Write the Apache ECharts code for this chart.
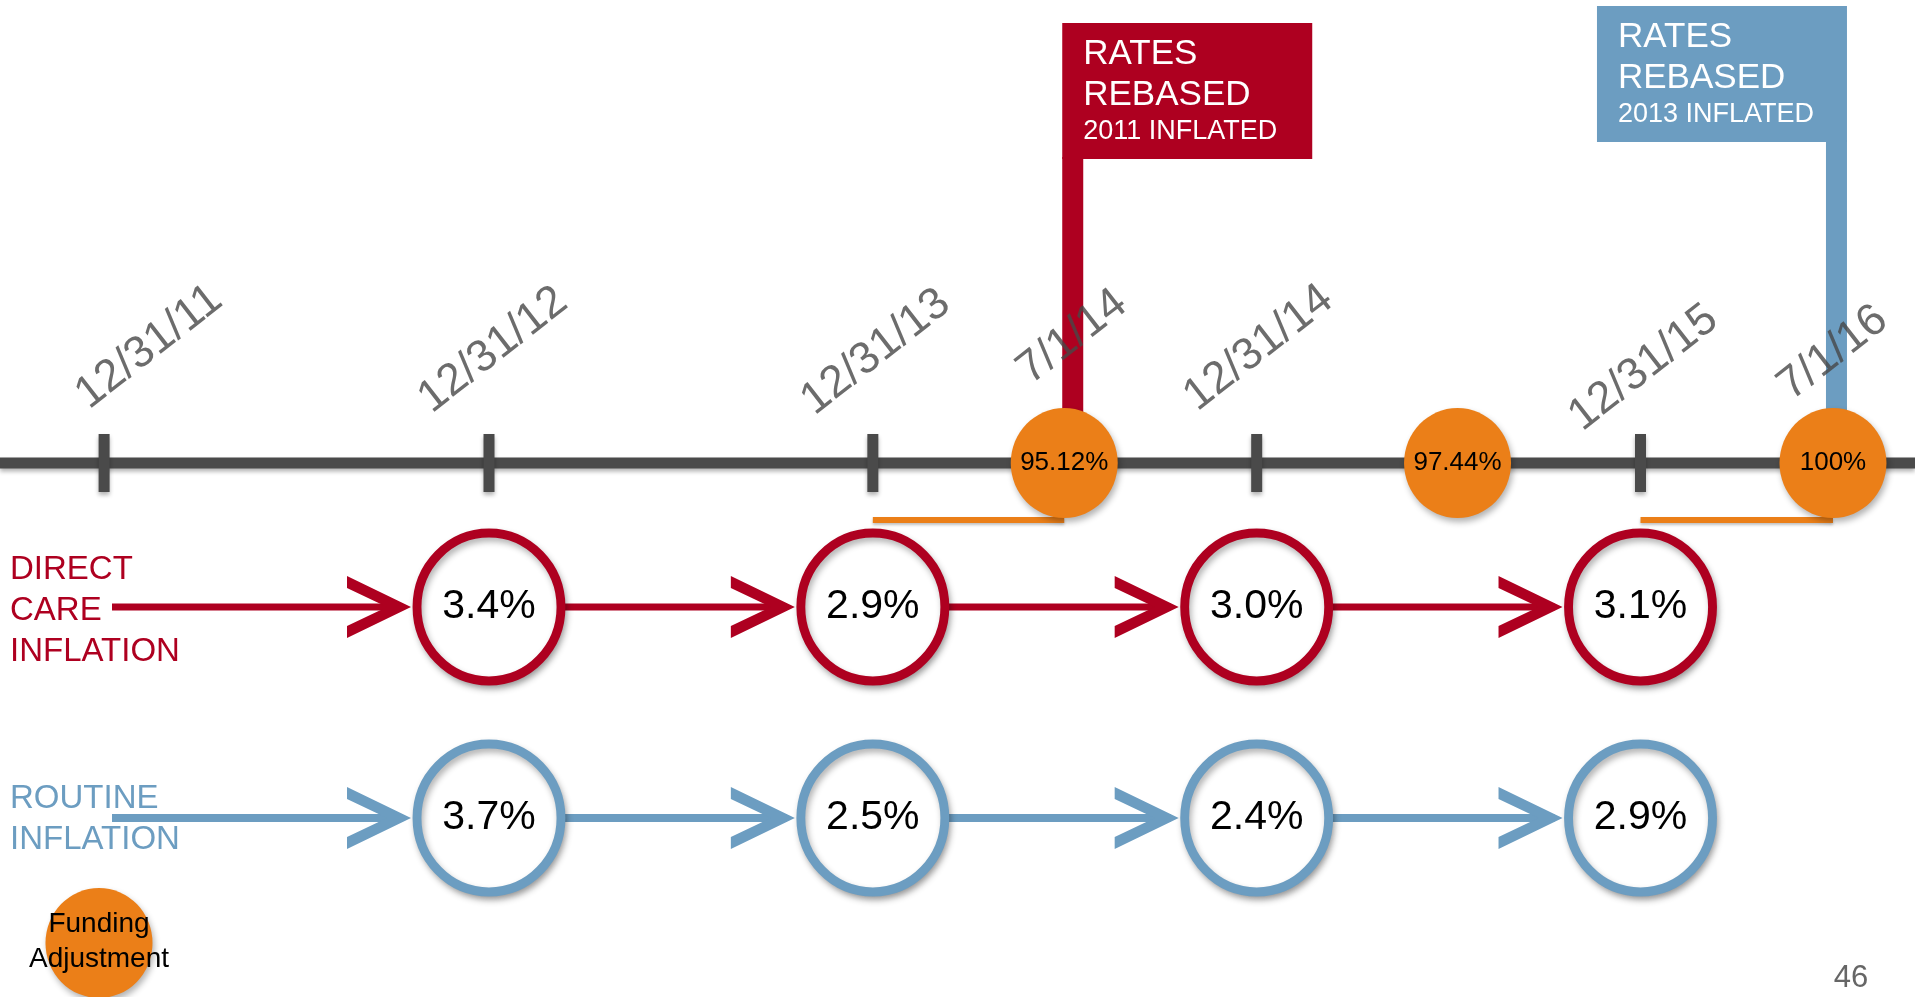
<!DOCTYPE html>
<html>
<head>
<meta charset="utf-8">
<title>Rates rebased timeline</title>
<script src="https://cdn.jsdelivr.net/npm/echarts@6/dist/echarts.min.js"></script>
<style>
    html, body { margin: 0; padding: 0; background: #fff; }
    #main { width: 1915px; height: 997px; }
</style>
</head>
<body>
<div id="main"></div>
<script type="text/javascript">
    // timeline ticks and the dates written above the line
    var tickDates = ['2011-12-31', '2012-12-31', '2013-12-31', '2014-12-31', '2015-12-31'];
    var labelDates = ['2011-12-31', '2012-12-31', '2013-12-31', '2014-07-01', '2014-12-31', '2015-12-31', '2016-07-01'];
    var labelTexts = ['12/31/11', '12/31/12', '12/31/13', '7/1/14', '12/31/14', '12/31/15', '7/1/16'];

    // funding adjustments (orange dots on the line)
    var fundingDates = ['2014-07-01', '2015-07-10', '2016-07-01'];
    var fundingValues = [95.12, 97.44, 100];

    // rebasing flags
    var rebaseDates = ['2014-07-01', '2016-07-01'];
    var rebaseNotes = ['2011 INFLATED', '2013 INFLATED'];

    // orange periods under the line
    var periodStart = ['2013-12-31', '2015-12-31'];
    var periodEnd = ['2014-07-01', '2016-07-01'];

    // inflation per year
    var inflationDates = ['2012-12-31', '2013-12-31', '2014-12-31', '2015-12-31'];
    var directCare = [3.4, 2.9, 3.0, 3.1];
    var routine = [3.7, 2.5, 2.4, 2.9];

    // ---- layout / style ----
    var FONT = '"Liberation Sans", Arial, sans-serif';
    var RED = '#AE0020', BLUE = '#6C9DC1', ORANGE = '#EB7F18', GREY = '#4A4A4A';
    var AXIS_Y = 463, BAR_Y = 520, LABEL_Y = 350, DIRECT_Y = 607, ROUTINE_Y = 818;
    var LABEL_ROT = 38;
    // screen shift of each date label (px)
    var labelShift = [[45, -3], [4, 0], [3, 2], [8, -13], [2, -2], [3, 18], [0, 3]];
    var flagColors = [RED, BLUE];
    var flagTop = [23, 6];
    var flagSide = ['right', 'left'];
    var ELLIPSE = 'path://M50,0 C77.6,0 100,22.4 100,50 C100,77.6 77.6,100 50,100 C22.4,100 0,77.6 0,50 C0,22.4 22.4,0 50,0 Z';
    var SHADOW = {shadowBlur: 6, shadowOffsetX: 2, shadowOffsetY: 4, shadowColor: 'rgba(0,0,0,0.3)'};

    function ts(s) {
        var a = s.split('-');
        return new Date(+a[0], +a[1] - 1, +a[2]).getTime();
    }
    var xMin = ts('2011-09-23'), xMax = ts('2016-09-17');

    function withShadow(o) {
        for (var k in SHADOW) o[k] = SHADOW[k];
        return o;
    }

    // label offset is applied in the rotated text frame, so turn the screen shift into it
    function localOffset(s) {
        var a = LABEL_ROT * Math.PI / 180, c = Math.cos(a), n = Math.sin(a);
        return [s[0] * c - s[1] * n, s[0] * n + s[1] * c];
    }

    function flagRender(params, api) {
        var i = params.dataIndex;
        var p = api.coord([api.value(0), api.value(1)]);
        var top = api.coord([api.value(0), flagTop[i]])[1];
        var w = 250, h = 136, poleW = 21;
        var rectX, poleX;
        if (flagSide[i] === 'right') {
            rectX = p[0] - 2; poleX = p[0] - 2;
        } else {
            rectX = p[0] + 14 - w; poleX = p[0] - 7;
        }
        var tx = rectX + 21;
        var txt = function (s, y, size) {
            return {type: 'text', x: tx, y: top + y, style: {text: s, fill: '#fff', fontSize: size, fontFamily: FONT, align: 'left', verticalAlign: 'middle'}};
        };
        return {
            type: 'group',
            children: [
                {type: 'rect', shape: {x: poleX, y: top + h - 2, width: poleW, height: p[1] - top - h}, style: {fill: flagColors[i]}},
                {type: 'rect', shape: {x: rectX, y: top, width: w, height: h}, style: {fill: flagColors[i]}},
                txt('RATES', 31, 35),
                txt('REBASED', 72, 35),
                txt(rebaseNotes[i], 109, 27)
            ]
        };
    }

    function arrowRender(dates, rowY, color, lw) {
        return function (params, api) {
            var i = params.dataIndex;
            var c = api.coord([api.value(0), api.value(1)]);
            var y = c[1];
            var tip = c[0] - 78;
            var startX = i === 0 ? c[0] - 377 : api.coord([ts(dates[i - 1]), rowY])[0];
            return {
                type: 'group',
                children: [
                    {type: 'line', shape: {x1: startX, y1: y, x2: tip - 8, y2: y}, style: {stroke: color, lineWidth: lw}},
                    {type: 'polygon', shape: {points: [[tip, y], [tip - 64, y - 31], [tip - 64, y - 19], [tip - 24, y], [tip - 64, y + 19], [tip - 64, y + 31]]}, style: {fill: color}}
                ]
            };
        };
    }

    function rateCircles(values, rowY, color) {
        return {
            type: 'scatter',
            z: 4,
            data: inflationDates.map(function (d, i) { return [ts(d), rowY, values[i]]; }),
            encode: {x: 0, y: 1},
            symbol: ELLIPSE,
            symbolSize: [144, 148],
            itemStyle: withShadow({color: '#fff', borderColor: color, borderWidth: 9, opacity: 1}),
            label: {
                show: true, position: 'inside', color: '#000', fontSize: 41, fontFamily: FONT,
                formatter: function (p) { return p.value[2].toFixed(1) + '%'; }
            }
        };
    }

    var myChart = echarts.init(document.getElementById('main'));
    var option = {
        animation: false,
        backgroundColor: '#fff',
        textStyle: {fontFamily: FONT},
        grid: {left: 0, right: 0, top: 0, bottom: 0, containLabel: false},
        xAxis: {type: 'time', min: xMin, max: xMax, show: false},
        yAxis: {type: 'value', min: 0, max: 997, inverse: true, show: false},
        graphic: [
            {type: 'text', x: 10, y: 611, style: {text: 'DIRECT\nCARE\nINFLATION', fill: RED, fontSize: 33, fontFamily: FONT, lineHeight: 41, align: 'left', verticalAlign: 'middle'}},
            {type: 'text', x: 10, y: 819, style: {text: 'ROUTINE\nINFLATION', fill: BLUE, fontSize: 33, fontFamily: FONT, lineHeight: 41, align: 'left', verticalAlign: 'middle'}},
            {type: 'circle', x: 99, y: 943, scaleX: 0.973, shape: {cx: 0, cy: 0, r: 55}, style: withShadow({fill: ORANGE})},
            {type: 'text', x: 99, y: 942, style: {text: 'Funding\nAdjustment', fill: '#000', fontSize: 28, fontFamily: FONT, lineHeight: 35, align: 'center', verticalAlign: 'middle'}},
            {type: 'text', x: 1851, y: 978, style: {text: '46', fill: '#666', fontSize: 31, fontFamily: FONT, align: 'center', verticalAlign: 'middle'}}
        ],
        series: [
            {
                // the timeline itself
                type: 'line', z: 1, silent: true, symbol: 'none',
                data: [[xMin, AXIS_Y], [xMax, AXIS_Y]],
                lineStyle: {color: GREY, width: 11, shadowBlur: 4, shadowOffsetY: 3, shadowColor: 'rgba(0,0,0,0.3)'}
            },
            {
                type: 'scatter', z: 2, silent: true,
                data: tickDates.map(function (d) { return [ts(d), AXIS_Y]; }),
                symbol: 'rect', symbolSize: [11, 58],
                itemStyle: {color: GREY, opacity: 1, shadowBlur: 4, shadowOffsetY: 3, shadowColor: 'rgba(0,0,0,0.3)'}
            },
            {
                type: 'lines', coordinateSystem: 'cartesian2d', z: 2, silent: true,
                data: periodStart.map(function (d, i) {
                    return {coords: [[ts(d), BAR_Y], [ts(periodEnd[i]), BAR_Y]]};
                }),
                lineStyle: {color: ORANGE, width: 6, opacity: 1, shadowBlur: 3, shadowOffsetY: 2, shadowColor: 'rgba(0,0,0,0.25)'}
            },
            {
                type: 'custom', z: 3, silent: true,
                data: rebaseDates.map(function (d) { return [ts(d), AXIS_Y]; }),
                encode: {x: 0, y: 1},
                renderItem: flagRender
            },
            {
                type: 'scatter', z: 4,
                data: fundingDates.map(function (d, i) { return [ts(d), AXIS_Y, fundingValues[i]]; }),
                encode: {x: 0, y: 1},
                symbol: ELLIPSE, symbolSize: [107, 110],
                itemStyle: withShadow({color: ORANGE, opacity: 1}),
                label: {
                    show: true, position: 'inside', color: '#000', fontSize: 26, fontFamily: FONT,
                    formatter: function (p) { return p.value[2] + '%'; }
                }
            },
            {
                type: 'scatter', z: 5, silent: true,
                data: labelDates.map(function (d, i) {
                    return {value: [ts(d), LABEL_Y], label: {offset: localOffset(labelShift[i])}};
                }),
                symbolSize: 1,
                itemStyle: {color: 'transparent'},
                label: {
                    show: true, position: 'inside', rotate: LABEL_ROT, color: '#474747', fontSize: 45, fontFamily: FONT,
                    formatter: function (p) { return labelTexts[p.dataIndex]; }
                }
            },
            {
                type: 'custom', z: 2, silent: true,
                data: inflationDates.map(function (d, i) { return [ts(d), DIRECT_Y, directCare[i]]; }),
                encode: {x: 0, y: 1},
                renderItem: arrowRender(inflationDates, DIRECT_Y, RED, 7)
            },
            rateCircles(directCare, DIRECT_Y, RED),
            {
                type: 'custom', z: 2, silent: true,
                data: inflationDates.map(function (d, i) { return [ts(d), ROUTINE_Y, routine[i]]; }),
                encode: {x: 0, y: 1},
                renderItem: arrowRender(inflationDates, ROUTINE_Y, BLUE, 8)
            },
            rateCircles(routine, ROUTINE_Y, BLUE)
        ]
    };
    myChart.setOption(option);
</script>
</body>
</html>
